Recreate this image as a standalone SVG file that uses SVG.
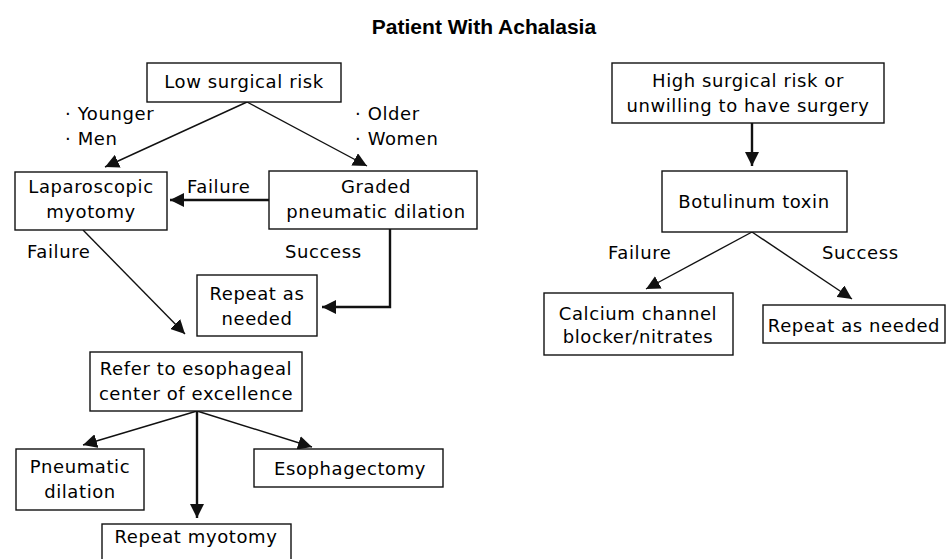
<svg xmlns="http://www.w3.org/2000/svg" width="946" height="559" viewBox="0 0 946 559">
<style>
.box{fill:#fff;stroke:#111;stroke-width:1.4}
.t{font-family:"DejaVu Sans",sans-serif;font-size:18px;letter-spacing:0.6px;fill:#000}
.m{text-anchor:middle}
.ln{fill:none;stroke:#111;stroke-width:1.4}
.th{fill:none;stroke:#111;stroke-width:2.4}
.title{font-family:"Liberation Sans",Arial,sans-serif;font-size:21px;font-weight:bold;fill:#000;text-anchor:middle}
</style>
<defs>
<marker id="ah" viewBox="0 0 14 14" refX="14" refY="7" markerWidth="14" markerHeight="14" markerUnits="userSpaceOnUse" orient="auto"><path d="M0,0 L14,7 L0,14 z" fill="#111"/></marker>
</defs>
<rect width="946" height="559" fill="#fff"/>
<text class="title" x="484" y="34">Patient With Achalasia</text>
<g id="connectors">
<line class="ln" x1="247" y1="102" x2="105" y2="167" marker-end="url(#ah)"/>
<line class="ln" x1="247" y1="102" x2="367" y2="166" marker-end="url(#ah)"/>
<line class="th" x1="269" y1="200" x2="170" y2="200" marker-end="url(#ah)"/>
<line class="ln" x1="83" y1="230" x2="185" y2="334" marker-end="url(#ah)"/>
<polyline class="th" points="390,229 390,307 322,307" marker-end="url(#ah)"/>
<line class="ln" x1="197" y1="411" x2="83" y2="445" marker-end="url(#ah)"/>
<line class="ln" x1="197" y1="411" x2="312" y2="447" marker-end="url(#ah)"/>
<line class="th" x1="197" y1="411" x2="197" y2="518" marker-end="url(#ah)"/>
<line class="th" x1="752" y1="123" x2="752" y2="166" marker-end="url(#ah)"/>
<line class="ln" x1="752" y1="232" x2="646" y2="289" marker-end="url(#ah)"/>
<line class="ln" x1="752" y1="232" x2="852" y2="299" marker-end="url(#ah)"/>
<text class="t" x="65" y="120">· Younger</text>
<text class="t" x="65" y="145">· Men</text>
<text class="t" x="355" y="120">· Older</text>
<text class="t" x="355" y="145">· Women</text>
<text class="t" x="187" y="193">Failure</text>
<text class="t" x="27" y="258">Failure</text>
<text class="t" x="285" y="258">Success</text>
<text class="t" x="608" y="259">Failure</text>
<text class="t" x="822" y="259">Success</text>
</g>
<g id="low-risk"><rect class="box" x="147" y="63" width="194" height="39"/><text class="t m" x="244" y="88">Low surgical risk</text></g>
<g id="laparoscopic"><rect class="box" x="15" y="172" width="152" height="58"/><text class="t m" x="91" y="193">Laparoscopic</text><text class="t m" x="91" y="218">myotomy</text></g>
<g id="graded"><rect class="box" x="269" y="171" width="208" height="58"/><text class="t m" x="376" y="193">Graded</text><text class="t m" x="376" y="218">pneumatic dilation</text></g>
<g id="repeat-left"><rect class="box" x="197" y="275" width="120" height="61"/><text class="t m" x="257" y="300">Repeat as</text><text class="t m" x="257" y="325">needed</text></g>
<g id="refer"><rect class="box" x="90" y="352" width="212" height="59"/><text class="t m" x="196" y="375">Refer to esophageal</text><text class="t m" x="196" y="400">center of excellence</text></g>
<g id="pneumatic"><rect class="box" x="16" y="449" width="128" height="61"/><text class="t m" x="80" y="473">Pneumatic</text><text class="t m" x="80" y="498">dilation</text></g>
<g id="esophagectomy"><rect class="box" x="254" y="449" width="189" height="38"/><text class="t m" x="350" y="475">Esophagectomy</text></g>
<g id="repeat-myotomy"><rect class="box" x="102" y="524" width="189" height="45"/><text class="t m" x="196" y="543">Repeat myotomy</text></g>
<g id="high-risk"><rect class="box" x="612" y="63" width="272" height="60"/><text class="t m" x="748" y="87">High surgical risk or</text><text class="t m" x="748" y="112">unwilling to have surgery</text></g>
<g id="botulinum"><rect class="box" x="662" y="171" width="185" height="61"/><text class="t m" x="754" y="208">Botulinum toxin</text></g>
<g id="calcium"><rect class="box" x="544" y="293" width="189" height="62"/><text class="t m" x="638" y="320">Calcium channel</text><text class="t m" x="638" y="343">blocker/nitrates</text></g>
<g id="repeat-right"><rect class="box" x="763" y="305" width="182" height="38"/><text class="t m" x="854" y="332">Repeat as needed</text></g>
</svg>
